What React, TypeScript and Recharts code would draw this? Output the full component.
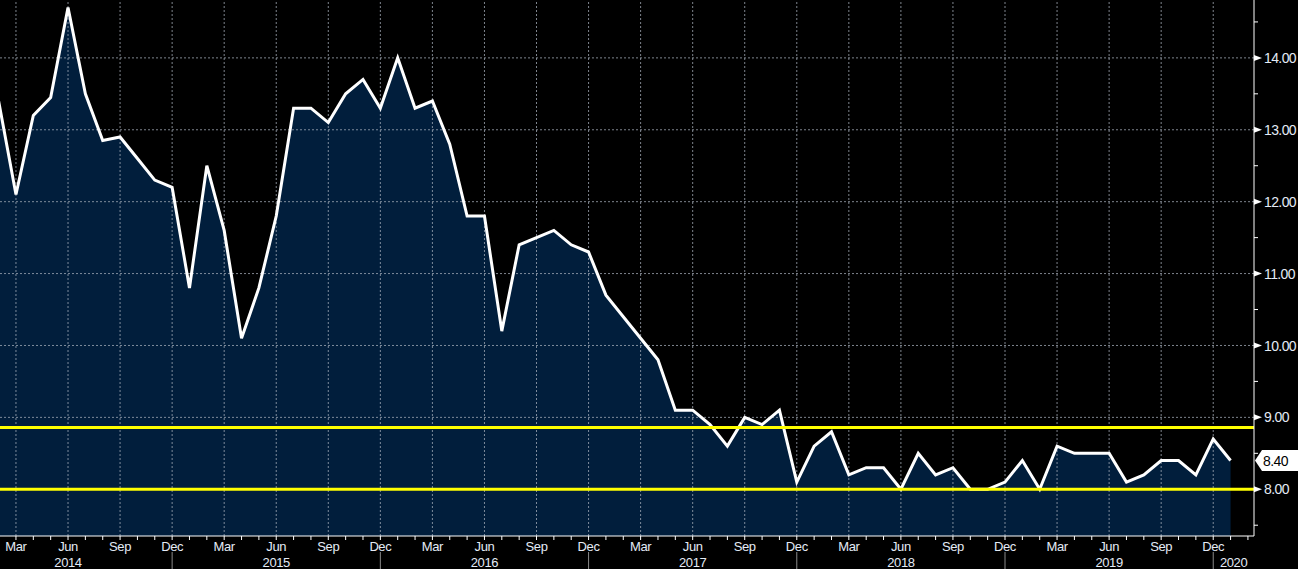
import React from 'react';
import { ComposedChart, Area, Line, XAxis, YAxis, ReferenceLine } from 'recharts';

// monthly readings, Feb 2014 .. Jan 2020
const DATES = [
  '2014-02', '2014-03', '2014-04', '2014-05', '2014-06', '2014-07', '2014-08', '2014-09', '2014-10', '2014-11', '2014-12',
  '2015-01', '2015-02', '2015-03', '2015-04', '2015-05', '2015-06', '2015-07', '2015-08', '2015-09', '2015-10', '2015-11', '2015-12',
  '2016-01', '2016-02', '2016-03', '2016-04', '2016-05', '2016-06', '2016-07', '2016-08', '2016-09', '2016-10', '2016-11', '2016-12',
  '2017-01', '2017-02', '2017-03', '2017-04', '2017-05', '2017-06', '2017-07', '2017-08', '2017-09', '2017-10', '2017-11', '2017-12',
  '2018-01', '2018-02', '2018-03', '2018-04', '2018-05', '2018-06', '2018-07', '2018-08', '2018-09', '2018-10', '2018-11', '2018-12',
  '2019-01', '2019-02', '2019-03', '2019-04', '2019-05', '2019-06', '2019-07', '2019-08', '2019-09', '2019-10', '2019-11', '2019-12',
  '2020-01',
];

const VALUES = [
  13.4, 12.1, 13.2, 13.45, 14.7, 13.5, 12.85, 12.9, 12.6, 12.3, 12.2,
  10.8, 12.5, 11.6, 10.1, 10.8, 11.8, 13.3, 13.3, 13.1, 13.5, 13.7, 13.3,
  14.0, 13.3, 13.4, 12.8, 11.8, 11.8, 10.2, 11.4, 11.5, 11.6, 11.4, 11.3,
  10.7, 10.4, 10.1, 9.8, 9.1, 9.1, 8.9, 8.6, 9.0, 8.9, 9.1, 8.1,
  8.6, 8.8, 8.2, 8.3, 8.3, 8.0, 8.5, 8.2, 8.3, 8.0, 8.0, 8.1,
  8.4, 8.0, 8.6, 8.5, 8.5, 8.5, 8.1, 8.2, 8.4, 8.4, 8.2, 8.7,
  8.4,
];

const BANDS = [8.86, 8.0];
const Y_MAJOR = [8, 9, 10, 11, 12, 13, 14];
const Y_MINOR = [7.5, 8.5, 9.5, 10.5, 11.5, 12.5, 13.5, 14.5];
const MONTH_NAMES = ['Jan', 'Feb', 'Mar', 'Apr', 'May', 'Jun', 'Jul', 'Aug', 'Sep', 'Oct', 'Nov', 'Dec'];
const QUARTER_MONTHS = [2, 5, 8, 11];
const FIRST_YEAR = 2014;
const FIRST_MONTH = 1; // Feb

const data = VALUES.map((v, i) => ({ i, date: DATES[i], v }));
const lastValue = VALUES[VALUES.length - 1];
const monthTicks = Array.from({ length: VALUES.length + 1 }, (_, i) => i);
const quarterIdx = monthTicks.filter((i) => QUARTER_MONTHS.includes((FIRST_MONTH + i) % 12) && i < VALUES.length);

const FONT = '"Liberation Sans", Arial, sans-serif';
const TEXT = '#e4ebf6';
const GRID = '#a8b0bc';

function MonthTick({ x, y, payload }: any) {
  const i = payload.value;
  const m = (FIRST_MONTH + i) % 12;
  const year = FIRST_YEAR + Math.floor((FIRST_MONTH + i) / 12);
  const isQuarter = QUARTER_MONTHS.includes(m);
  return (
    <g>
      <line x1={x} x2={x} y1={y} y2={y + 4} stroke="#fff" strokeWidth={1} />
      {isQuarter && (
        <text x={x} y={y + 15} textAnchor="middle" fill={TEXT} fontSize={13} letterSpacing={-0.4} fontFamily={FONT}>
          {MONTH_NAMES[m]}
        </text>
      )}
      {m === 5 && (
        <text x={x} y={y + 31} textAnchor="middle" fill={TEXT} fontSize={13} letterSpacing={-0.4} fontFamily={FONT}>
          {year}
        </text>
      )}
      {m === 11 && <line x1={x} x2={x} y1={y + 16} y2={y + 33} stroke="#8a8a8a" strokeWidth={1} />}
      {m === 0 && i === VALUES.length - 1 && (
        <text x={x + 3} y={y + 31} textAnchor="middle" fill={TEXT} fontSize={13} letterSpacing={-0.4} fontFamily={FONT}>
          {year}
        </text>
      )}
    </g>
  );
}

function ValueTick({ x, y, payload }: any) {
  const v = payload.value;
  if (v === lastValue) {
    return (
      <g>
        <polygon points={`${x + 1},${y} ${x + 8},${y - 10.5} ${x + 44},${y - 10.5} ${x + 44},${y + 10.5} ${x + 8},${y + 10.5}`} fill="#fff" />
        <text x={x + 9} y={y} dy="0.36em" fill="#000" fontSize={14} letterSpacing={-0.6} fontFamily={FONT}>
          {v.toFixed(2)}
        </text>
      </g>
    );
  }
  if (Y_MAJOR.includes(v)) {
    return (
      <g>
        <polygon points={`${x},${y - 3} ${x + 8},${y} ${x},${y + 3}`} fill="#fff" />
        <text x={x + 10} y={y} dy="0.36em" fill={TEXT} fontSize={14} letterSpacing={-0.6} fontFamily={FONT}>
          {v.toFixed(2)}
        </text>
      </g>
    );
  }
  return <line x1={x} x2={x + 4} y1={y} y2={y} stroke="#fff" strokeWidth={1} />;
}

export default function App() {
  return (
    <div style={{ position: 'absolute', left: 0, top: 0, width: 1298, height: 569, background: '#000' }}>
      <ComposedChart width={1298} height={569} data={data} margin={{ top: 0, right: 0, bottom: 0, left: 0 }}>
        <XAxis
          dataKey="i"
          type="number"
          domain={[0.08, 72.35]}
          allowDataOverflow
          ticks={monthTicks}
          interval={0}
          height={33}
          tickLine={false}
          tickSize={0}
          tickMargin={0}
          axisLine={{ stroke: '#fff', strokeWidth: 1 }}
          tick={<MonthTick />}
        />
        <YAxis
          orientation="right"
          type="number"
          domain={[7.35, 14.805]}
          allowDataOverflow
          ticks={[...Y_MINOR, ...Y_MAJOR, lastValue]}
          interval={0}
          width={44}
          tickLine={false}
          tickSize={0}
          tickMargin={0}
          axisLine={{ stroke: '#fff', strokeWidth: 1 }}
          tick={<ValueTick />}
        />
        <Area dataKey="v" type="linear" fill="#011e3c" fillOpacity={1} stroke="none" isAnimationActive={false} />
        {quarterIdx.map((i) => (
          <ReferenceLine key={'vx' + i} x={i} stroke={GRID} strokeOpacity={0.75} strokeDasharray="2 2" />
        ))}
        {Y_MAJOR.map((v) => (
          <ReferenceLine key={'hy' + v} y={v} stroke={GRID} strokeOpacity={0.75} strokeDasharray="2 2" />
        ))}
        <Line dataKey="v" type="linear" stroke="#fff" strokeWidth={3} dot={false} isAnimationActive={false} />
        {BANDS.map((v) => (
          <ReferenceLine key={'band' + v} y={v} stroke="#ffff00" strokeWidth={3} />
        ))}
      </ComposedChart>
    </div>
  );
}
